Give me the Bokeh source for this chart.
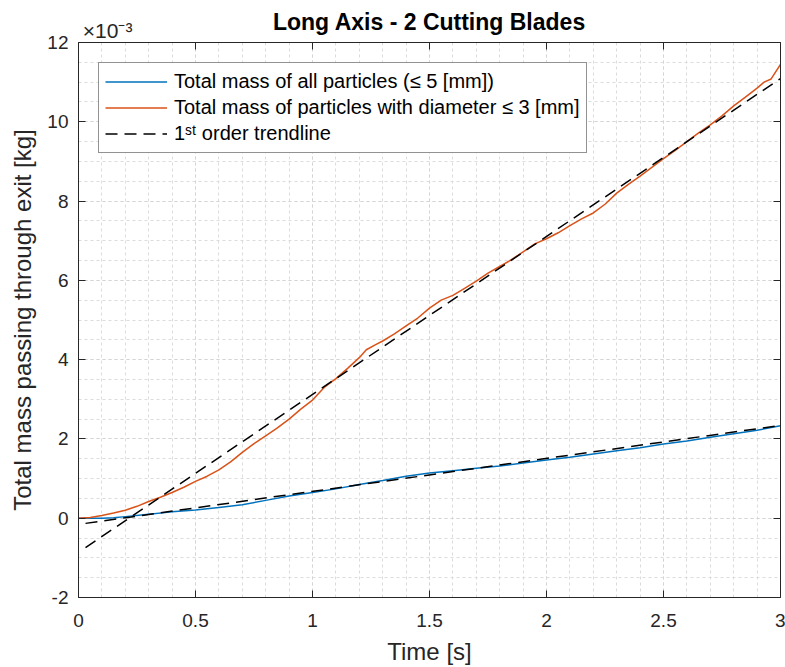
from bokeh.plotting import figure
from bokeh.models import (SingleIntervalTicker, FixedTicker, LinearAxis, Range1d, Legend,
                          LegendItem, CustomJSTickFormatter)
from bokeh.embed import file_html
from bokeh.resources import INLINE

# ---- data (mass in units of 1e-3 kg) ----
t_all = [0, 0.05, 0.1, 0.15, 0.2, 0.3, 0.4, 0.5, 0.6, 0.7, 0.8, 0.9, 1.0, 1.1, 1.2, 1.3,
         1.4, 1.5, 1.6, 1.7, 1.8, 1.9, 2.0, 2.1, 2.2, 2.3, 2.4, 2.5, 2.6, 2.7, 2.8, 2.9, 3.0]
m_all = [0, 0.0, 0.0, 0.01, 0.04, 0.1, 0.16, 0.21, 0.27, 0.34, 0.45, 0.56, 0.65, 0.74, 0.85, 0.95,
         1.06, 1.14, 1.2, 1.26, 1.32, 1.39, 1.47, 1.54, 1.62, 1.7, 1.78, 1.87, 1.95, 2.04, 2.13, 2.22, 2.33]

t_d3 = [0, 0.05, 0.1, 0.15, 0.2, 0.25, 0.3, 0.35, 0.4, 0.45, 0.5, 0.55, 0.6, 0.65, 0.7, 0.75,
        0.8, 0.85, 0.9, 0.95, 1.0, 1.05, 1.1, 1.15, 1.2, 1.23, 1.27, 1.3, 1.35, 1.4, 1.45, 1.5,
        1.55, 1.6, 1.65, 1.7, 1.75, 1.8, 1.85, 1.9, 1.95, 2.0, 2.05, 2.1, 2.15, 2.2, 2.25, 2.3,
        2.35, 2.4, 2.45, 2.5, 2.55, 2.6, 2.65, 2.7, 2.75, 2.8, 2.85, 2.9, 2.93, 2.96, 3.0]
m_d3 = [0, 0.02, 0.07, 0.13, 0.2, 0.3, 0.42, 0.53, 0.65, 0.78, 0.93, 1.06, 1.22, 1.42, 1.66, 1.88,
        2.08, 2.28, 2.5, 2.75, 2.98, 3.3, 3.52, 3.78, 4.05, 4.25, 4.38, 4.47, 4.65, 4.85, 5.05, 5.3,
        5.5, 5.62, 5.8, 5.98, 6.18, 6.35, 6.52, 6.72, 6.92, 7.05, 7.2, 7.38, 7.55, 7.7, 7.92, 8.2,
        8.42, 8.63, 8.85, 9.07, 9.28, 9.5, 9.72, 9.92, 10.15, 10.4, 10.62, 10.85, 11.0, 11.08, 11.45]

trend_t = [0.03, 3.0]
trend_all = [-0.13, 2.34]
trend_d3 = [-0.74, 11.09]

x_ticks = [0, 0.5, 1, 1.5, 2, 2.5, 3]
title = "Long Axis - 2 Cutting Blades"
exponent_label = "\u00d710\u207b\u00b3"
labels = ["Total mass of all particles (\u2264 5 [mm])",
          "Total mass of particles with diameter \u2264 3 [mm]",
          "1\u02e2\u1d57 order trendline"]

FONT = "Liberation Sans"
AX = "#262626"

p = figure(width=785, height=667, x_range=Range1d(0, 3), y_range=Range1d(-2, 12),
           output_backend="svg", toolbar_location=None, title_location=None,
           min_border_left=78, min_border_right=5, min_border_top=42, min_border_bottom=69,
           background_fill_color="white", border_fill_color="white")

xt = SingleIntervalTicker(interval=0.5, num_minor_ticks=5)
yt = SingleIntervalTicker(interval=2, num_minor_ticks=4)
fmt = CustomJSTickFormatter(code="return String(Math.round(tick*100)/100);")

for ax, tk in ((p.xaxis[0], xt), (p.yaxis[0], yt)):
    ax.ticker = tk
    ax.formatter = fmt
    ax.major_tick_in = 7
    ax.major_tick_out = 0
    ax.minor_tick_in = 0
    ax.minor_tick_out = 0
    ax.axis_line_color = AX
    ax.major_tick_line_color = AX
    ax.major_label_text_color = AX
    ax.major_label_text_font = FONT
    ax.major_label_text_font_size = "19px"
    ax.axis_label_text_font = FONT
    ax.axis_label_text_font_size = "24px"
    ax.axis_label_text_font_style = "normal"
    ax.axis_label_text_color = AX

p.xaxis.axis_label = "Time [s]"
p.yaxis.axis_label = "Total mass passing through exit [kg]"
p.xaxis.major_label_standoff = 16
p.xaxis.axis_label_standoff = 8
p.yaxis.major_label_standoff = 10
p.yaxis.axis_label_standoff = 8

# top axis: inward ticks, exponent label at the left corner, chart title as its axis label
pad = "\u00a0" * 10
top_fmt = CustomJSTickFormatter(args=dict(lab=pad + exponent_label),
                                code="return tick == 0 ? lab : '';")
top = LinearAxis(ticker=FixedTicker(ticks=x_ticks), formatter=top_fmt,
                 major_tick_in=7, major_tick_out=0, minor_tick_in=0, minor_tick_out=0,
                 axis_line_color=AX, major_tick_line_color=AX,
                 major_label_standoff=1, major_label_text_font=FONT,
                 major_label_text_font_size="21px", major_label_text_color=AX,
                 axis_label=title, axis_label_standoff=-19,
                 axis_label_text_font=FONT, axis_label_text_font_size="23px",
                 axis_label_text_font_style="bold", axis_label_text_color="black")
p.add_layout(top, "above")

right = LinearAxis(ticker=yt, major_label_text_font_size="0px", major_label_standoff=0,
                   major_tick_in=7, major_tick_out=0, minor_tick_in=0, minor_tick_out=0,
                   axis_line_color=AX, major_tick_line_color=AX)
p.add_layout(right, "right")

for g, tk in ((p.xgrid[0], xt), (p.ygrid[0], yt)):
    g.ticker = tk
    g.grid_line_color = "#d4d4d4"
    g.grid_line_dash = "3 3"
    g.grid_line_width = 1
    g.minor_grid_line_color = "#dcdcdc"
    g.minor_grid_line_dash = "3 3"
    g.minor_grid_line_width = 1

r_all = p.line(t_all, m_all, line_color="#0072BD", line_width=1.5)
r_d3 = p.line(t_d3, m_d3, line_color="#D95319", line_width=1.5)
r_tr = p.line(trend_t, trend_all, line_color="black", line_width=1.5, line_dash="12 7")
p.line(trend_t, trend_d3, line_color="black", line_width=1.5, line_dash="12 7")

legend = Legend(items=[LegendItem(label=labels[0], renderers=[r_all]),
                       LegendItem(label=labels[1], renderers=[r_d3]),
                       LegendItem(label=labels[2], renderers=[r_tr])],
                location="top_left", margin=20, padding=6, spacing=1,
                glyph_width=62, glyph_height=25, label_standoff=7,
                label_text_font=FONT, label_text_font_size="20px", label_text_color="black",
                border_line_color=AX, border_line_width=1, background_fill_color="white",
                background_fill_alpha=1)
p.add_layout(legend, "center")

open("out.html", "w").write(file_html(p, INLINE))
